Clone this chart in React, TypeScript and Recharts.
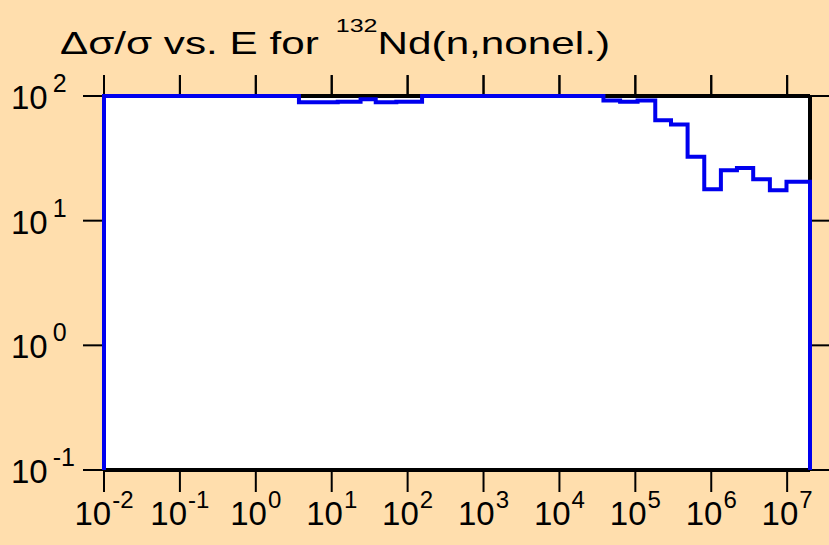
import {
  LineChart,
  Line,
  XAxis,
  YAxis,
  CartesianGrid,
  ReferenceLine,
} from "recharts";

// bin start energies (eV) and relative uncertainty (%) - step histogram
const energies = [
  0.01, 0.01, 3.7, 12, 24, 38, 71, 155, 3.8e4, 6.3e4, 1.07e5, 1.83e5, 2.95e5,
  4.88e5, 8.09e5, 1.34e6, 2.18e6, 3.57e6, 5.92e6, 9.8e6, 2e7,
];
const ratios = [
  0.1, 100, 89, 90, 94, 89, 90, 100, 92, 90, 92, 64, 59, 32.5, 17.9, 25.4,
  26.5, 21.5, 17.5, 20.5, 0.1,
];
const xTicks = [1e-2, 1e-1, 1, 1e1, 1e2, 1e3, 1e4, 1e5, 1e6, 1e7];
const yTicks = [0.1, 1, 10, 100];

const data = energies.map((e, i) => ({ e, v: ratios[i] }));

const font = "'Liberation Sans', Arial, sans-serif";
const bg = "#FFDEAD";
// top outward ticks run from the frame (100) up to this level
const topTickEnd = 147;

const XTick = (props: any) => {
  const { x, y, payload } = props;
  const exp = Math.round(Math.log10(payload.value));
  return (
    <text x={x} y={y + 33} textAnchor="middle" fontFamily={font} fill="#000">
      <tspan fontSize={33}>10</tspan>
      <tspan fontSize={24} dy={-17} dx={1}>
        {exp}
      </tspan>
    </text>
  );
};

const YTick = (props: any) => {
  const { y, payload } = props;
  const exp = Math.round(Math.log10(payload.value));
  return (
    <text x={11} y={y + 13} textAnchor="start" fontFamily={font} fill="#000">
      <tspan fontSize={33}>10</tspan>
      <tspan fontSize={25} dy={-17} dx={5}>
        {exp}
      </tspan>
    </text>
  );
};

const App = () => {
  return (
    <div
      style={{
        position: "absolute",
        left: 0,
        top: 0,
        width: 829,
        height: 545,
        background: bg,
      }}
    >
      <LineChart
        width={829}
        height={545}
        data={data}
        margin={{ top: 75, right: 0, bottom: 0, left: 0 }}
      >
        <CartesianGrid fill="#fff" horizontal={false} vertical={false} />
        <XAxis
          dataKey="e"
          type="number"
          scale="log"
          domain={[0.01, 2e7]}
          ticks={xTicks}
          interval={0}
          height={75}
          tickSize={22}
          tickMargin={0}
          tick={<XTick />}
          axisLine={{ stroke: "#000", strokeWidth: 4 }}
          tickLine={{ stroke: "#000", strokeWidth: 2 }}
        />
        <XAxis
          xAxisId="top"
          orientation="top"
          dataKey="e"
          type="number"
          scale="log"
          domain={[0.01, 2e7]}
          ticks={xTicks}
          interval={0}
          height={21}
          tickSize={21}
          tick={<g />}
          axisLine={{ stroke: "#000", strokeWidth: 4 }}
          tickLine={{ stroke: "#000", strokeWidth: 2 }}
        />
        <YAxis
          type="number"
          scale="log"
          domain={[0.1, 100]}
          ticks={yTicks}
          interval={0}
          width={104}
          tickSize={21}
          tickMargin={0}
          tick={<YTick />}
          axisLine={{ stroke: "#000", strokeWidth: 4 }}
          tickLine={{ stroke: "#000", strokeWidth: 2 }}
        />
        <YAxis
          yAxisId="right"
          orientation="right"
          type="number"
          scale="log"
          domain={[0.1, 100]}
          ticks={yTicks}
          interval={0}
          width={19}
          tickSize={19}
          tick={<g />}
          axisLine={{ stroke: "#000", strokeWidth: 4 }}
          tickLine={{ stroke: "#000", strokeWidth: 2 }}
        />
        {xTicks.map((t) => (
          <ReferenceLine
            key={t}
            segment={[
              { x: t, y: 100 },
              { x: t, y: topTickEnd },
            ]}
            ifOverflow="visible"
            stroke="#000"
            strokeWidth={2}
          />
        ))}
        <Line
          xAxisId="top"
          yAxisId="right"
          dataKey="v"
          stroke="none"
          dot={false}
          activeDot={false}
          isAnimationActive={false}
        />
        <Line
          type="stepAfter"
          dataKey="v"
          stroke="#0000ee"
          strokeWidth={4}
          dot={false}
          activeDot={false}
          isAnimationActive={false}
          zIndex={1000}
        />
      </LineChart>
      <svg
        width={829}
        height={545}
        style={{ position: "absolute", left: 0, top: 0, pointerEvents: "none" }}
      >
        <g transform="translate(60,54) scale(1.32,1)">
          <text x={0} y={0} fontFamily={font} fontSize={32} fill="#000">
            Δσ/σ vs. E for{" "}
            <tspan fontSize={19} dy={-22} dx={4}>
              132
            </tspan>
            <tspan dy={22}>Nd(n,nonel.)</tspan>
          </text>
        </g>
      </svg>
    </div>
  );
};

export default App;
